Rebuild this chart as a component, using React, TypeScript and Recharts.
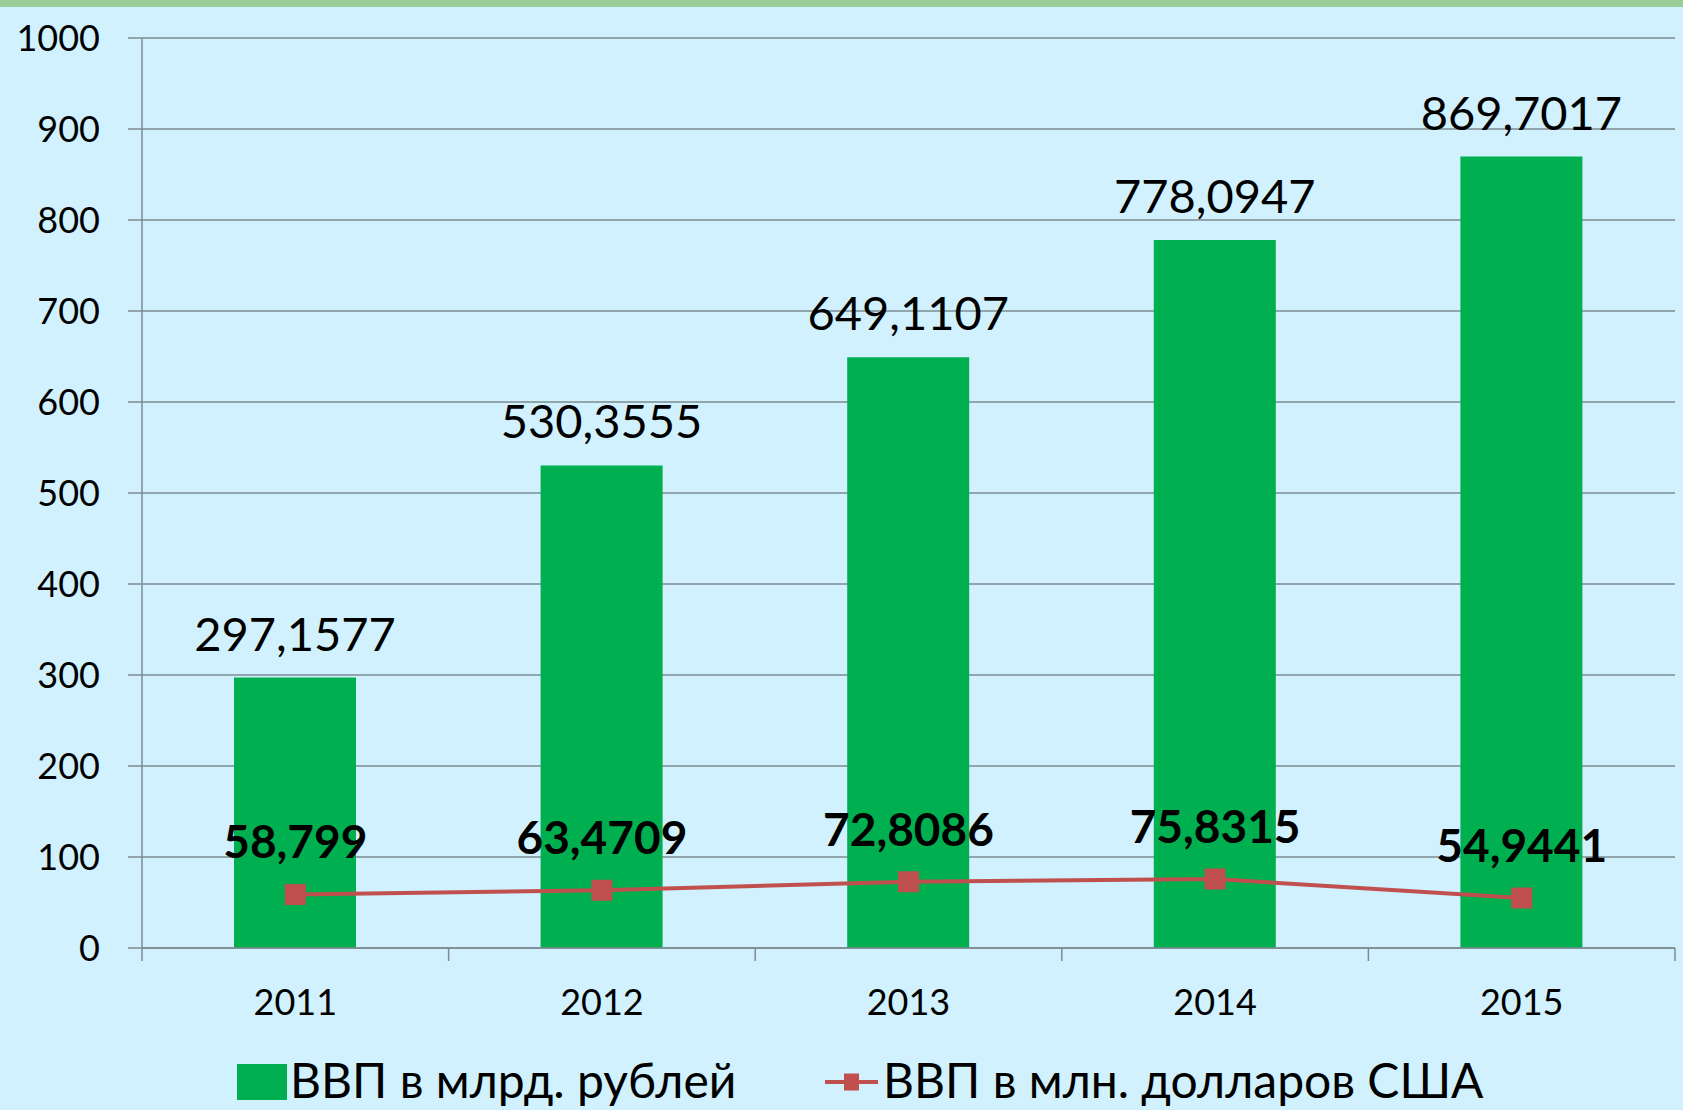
import React from 'react';
import { ComposedChart, Bar, Line, XAxis, YAxis, CartesianGrid, LabelList } from 'recharts';

const years = ['2011', '2012', '2013', '2014', '2015'];
const gdpRub = [297.1577, 530.3555, 649.1107, 778.0947, 869.7017];
const gdpUsd = [58.799, 63.4709, 72.8086, 75.8315, 54.9441];
const yTicks = [0, 100, 200, 300, 400, 500, 600, 700, 800, 900, 1000];
const rubLabel = 'ВВП в млрд. рублей';
const usdLabel = 'ВВП в млн. долларов США';

const data = years.map((year, i) => ({ year, rub: gdpRub[i], usd: gdpUsd[i] }));

const FONT = "Lato, 'Noto Sans', sans-serif";
const GREEN = '#00b050';
const RED = '#c0504d';
const GRID = '#7d8b91';
const X_TICK_MARGIN = 41;
const X_TICK_LEN = 13;

const fmt = (v: any) => String(v).replace('.', ',');

const SquareDot = (props: any) => {
  const { cx, cy, index } = props;
  if (cx == null || cy == null) return null;
  return <rect key={`dot-${index}`} x={cx - 10.5} y={cy - 10.5} width={21} height={21} fill={RED} />;
};

// category label plus Excel-style tick marks between categories
const CategoryTick = (props: any) => {
  const { x, y, payload, index, visibleTicksCount } = props;
  const half = payload?.offset ?? 0;
  const axisY = y - X_TICK_MARGIN;
  return (
    <g>
      <line x1={x - half} x2={x - half} y1={axisY} y2={axisY + X_TICK_LEN} stroke={GRID} strokeWidth={1.5} />
      {index === visibleTicksCount - 1 && (
        <line x1={x + half} x2={x + half} y1={axisY} y2={axisY + X_TICK_LEN} stroke={GRID} strokeWidth={1.5} />
      )}
      <text x={x} y={y} dy="0.71em" textAnchor="middle" fontSize={36} fill="#000">
        {payload.value}
      </text>
    </g>
  );
};

const legendStyle: React.CSSProperties = {
  position: 'absolute',
  top: 1056,
  height: 48,
  display: 'flex',
  alignItems: 'center',
  fontSize: 48,
  lineHeight: '48px',
  color: '#000',
  whiteSpace: 'nowrap',
};

const App = () => {
  return (
    <div
      style={{
        position: 'absolute',
        left: 0,
        top: 0,
        width: 1683,
        height: 1110,
        background: '#d0f1fd',
        overflow: 'hidden',
        fontFamily: FONT,
      }}
    >
      <div style={{ position: 'absolute', left: 0, top: 0, width: 1683, height: 7, background: '#9acd98' }} />
      <div style={{ position: 'absolute', left: 0, top: 0 }}>
        <ComposedChart width={1683} height={1110} data={data} margin={{ top: 38, right: 8, bottom: 161, left: 0 }}>
          <CartesianGrid vertical={false} stroke={GRID} strokeWidth={1.5} />
          <XAxis
            dataKey="year"
            height={1}
            stroke={GRID}
            strokeWidth={1.5}
            tickLine={false}
            tickSize={0}
            tickMargin={X_TICK_MARGIN}
            interval={0}
            tick={<CategoryTick />}
          />
          <YAxis
            domain={[0, 1000]}
            ticks={yTicks}
            width={142}
            tickSize={14}
            tickMargin={28}
            stroke={GRID}
            strokeWidth={1.5}
            tick={{ fontSize: 36, fill: '#000' }}
          />
          <Bar dataKey="rub" fill={GREEN} barSize={122} isAnimationActive={false}>
            <LabelList dataKey="rub" position="top" offset={27} formatter={fmt} fill="#000" fontSize={47} />
          </Bar>
          <Line
            dataKey="usd"
            stroke={RED}
            strokeWidth={4}
            dot={SquareDot}
            activeDot={false}
            isAnimationActive={false}
          >
            <LabelList dataKey="usd" position="top" offset={36} formatter={fmt} fill="#000" fontSize={46} fontWeight="bold" />
          </Line>
        </ComposedChart>
      </div>
      <div style={{ ...legendStyle, left: 237 }}>
        <div style={{ width: 50, height: 36, background: GREEN, marginRight: 3, marginTop: 4 }} />
        <span>{rubLabel}</span>
      </div>
      <div style={{ ...legendStyle, left: 825 }}>
        <svg width={53} height={20} style={{ marginRight: 5, marginTop: 4 }}>
          <line x1={0} y1={10} x2={53} y2={10} stroke={RED} strokeWidth={4} />
          <rect x={19} y={1.5} width={15} height={17} fill={RED} />
        </svg>
        <span>{usdLabel}</span>
      </div>
    </div>
  );
};

export default App;
